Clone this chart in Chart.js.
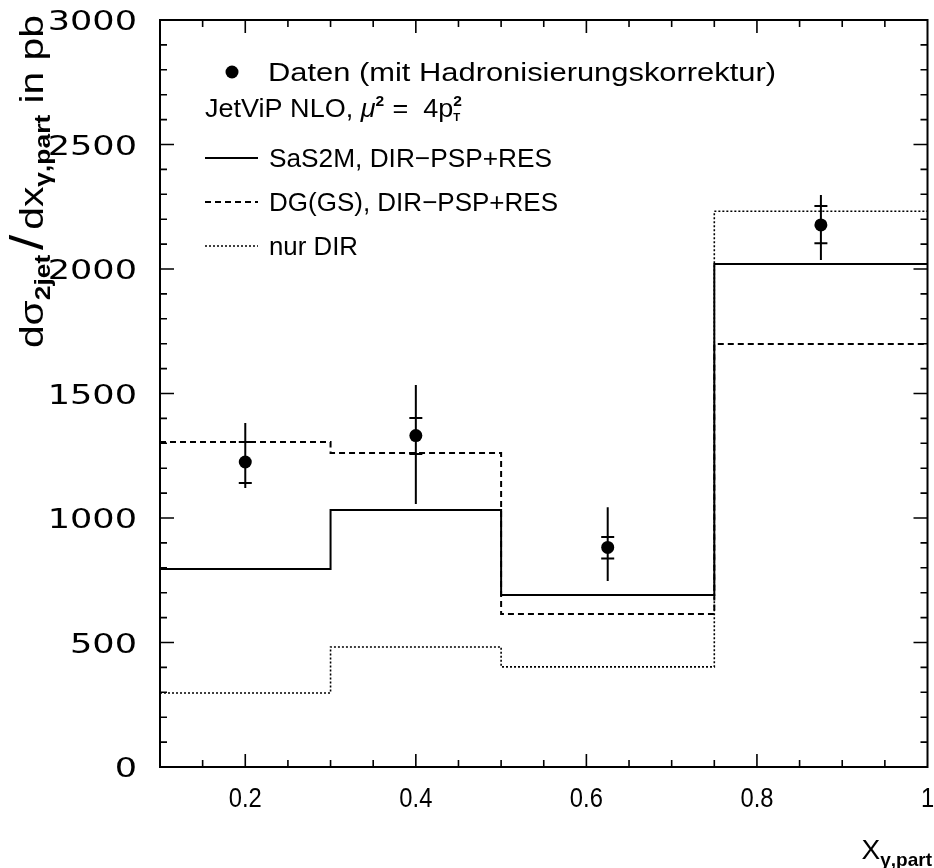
<!DOCTYPE html>
<html>
<head>
<meta charset="utf-8">
<script src="https://cdn.jsdelivr.net/npm/chart.js@4.4.1/dist/chart.umd.min.js"></script>
<style>
  html, body { margin: 0; padding: 0; background: #fff; }
  canvas { display: block; }
</style>
</head>
<body>
<canvas id="c" width="934" height="868"></canvas>
<script>
// Bin edges in x_gamma,part and the NLO predictions per bin (pb)
const binEdges = [0.1, 0.3, 0.5, 0.75, 1.0];
const sas2m  = [795, 1032, 691, 2020];
const dgGs   = [1305, 1261, 614, 1699];
const nurDir = [297, 482, 402, 2232];

// Measured cross section: central value, inner error extent, full error extent
const dataX     = [0.2, 0.4, 0.625, 0.875];
const dataY     = [1225, 1331, 882, 2177];
const innerLow  = [1141, 1257, 837, 2103];
const innerHigh = [1305, 1402, 924, 2253];
const totalLow  = [1120, 1056, 747, 2036];
const totalHigh = [1382, 1534, 1043, 2297];

// Axis tick labels
const xTickValues = [0.2, 0.4, 0.6, 0.8, 1.0];
const xTickLabels = ['0.2', '0.4', '0.6', '0.8', '1'];
const yTickValues = [0, 500, 1000, 1500, 2000, 2500, 3000];
const yTickLabels = ['0', '500', '1000', '1500', '2000', '2500', '3000'];

const FONT = '"Liberation Sans", Arial, sans-serif';

// histogram outline: each bin value starts at its left edge, last value carried to the end
function histPoints(values) {
  const pts = values.map((v, i) => ({ x: binEdges[i], y: v }));
  pts.push({ x: binEdges[binEdges.length - 1], y: values[values.length - 1] });
  return pts;
}

// draw a run of text pieces (size, style, vertical offset) with a horizontal stretch factor
function drawRich(ctx, segs, x, y, sx, measureOnly) {
  ctx.save();
  ctx.translate(x, y);
  ctx.scale(sx, 1);
  let cx = 0;
  for (const s of segs) {
    const fam = s.family || FONT;
    ctx.font = `${s.style || 'normal'} ${s.weight || 'normal'} ${s.size}px ${fam}`;
    const w = ctx.measureText(s.t).width;
    if (!measureOnly) {
      ctx.fillStyle = '#000';
      ctx.textAlign = 'left';
      ctx.textBaseline = 'alphabetic';
      ctx.fillText(s.t, cx + (s.dx || 0), s.dy || 0);
    }
    if (!s.noAdvance) cx += w + (s.gap || 0);
  }
  ctx.restore();
  return cx * sx;
}

// draw a run of text so that it spans a given width
function drawFit(ctx, segs, x, y, width) {
  const natural = drawRich(ctx, segs, 0, 0, 1, true);
  drawRich(ctx, segs, x, y, width / natural);
}

const frameAndTicks = {
  id: 'frameAndTicks',
  afterDraw(chart) {
    const ctx = chart.ctx;
    const { left, right, top, bottom } = chart.chartArea;
    const xs = chart.scales.x, ys = chart.scales.y;

    ctx.save();
    ctx.strokeStyle = '#000';
    ctx.lineWidth = 2;
    ctx.setLineDash([]);
    ctx.strokeRect(left, top, right - left, bottom - top);

    // inward ticks on all four sides
    ctx.lineWidth = 1.6;
    ctx.beginPath();
    for (let i = 1; i < 18; i++) {
      const v = 0.1 + i * 0.05;
      const major = i % 4 === 2;
      const len = major ? 13 : 7;
      const px = xs.getPixelForValue(v);
      ctx.moveTo(px, bottom); ctx.lineTo(px, bottom - len);
      ctx.moveTo(px, top); ctx.lineTo(px, top + len);
    }
    for (let v = 100; v < 3000; v += 100) {
      const len = v % 500 === 0 ? 14 : 7;
      const py = ys.getPixelForValue(v);
      ctx.moveTo(left, py); ctx.lineTo(left + len, py);
      ctx.moveTo(right, py); ctx.lineTo(right - len, py);
    }
    ctx.stroke();

    // tick labels
    ctx.fillStyle = '#000';
    xs.ticks.forEach((t, i) => {
      const px = xs.getPixelForValue(t.value);
      const segs = [{ t: xTickLabels[i], size: 27 }];
      const w = drawRich(ctx, segs, 0, 0, 0.88, true);
      drawRich(ctx, segs, px - w / 2, 807, 0.88);
    });
    ys.ticks.forEach((t, i) => {
      const py = ys.getPixelForValue(t.value);
      const segs = [{ t: yTickLabels[i], size: 27, family: '"DejaVu Sans", sans-serif' }];
      const w = drawRich(ctx, segs, 0, 0, 1.3, true);
      drawRich(ctx, segs, 137 - w, py + 10, 1.3);
    });

    // x axis title
    const xt = [
      { t: 'X', size: 28 },
      { t: 'γ,part', size: 19, weight: 'bold', dy: 7 }
    ];
    const xw = drawRich(ctx, xt, 0, 0, 1, true);
    drawRich(ctx, xt, 932 - xw, 859, 1);

    // y axis title (rotated, reads bottom to top)
    const yt = [
      { t: 'dσ', size: 34 },
      { t: '2jet', size: 22, weight: 'bold', dy: 7, gap: 2 },
      { t: '/', size: 46, dx: 2, gap: 6 },
      { t: 'dx', size: 34 },
      { t: 'γ,part', size: 22, weight: 'bold', dy: 7 },
      { t: ' in pb', size: 34 }
    ];
    const ysx = 1.2;
    const yw = drawRich(ctx, yt, 0, 0, ysx, true);
    ctx.save();
    ctx.translate(43, 15 + yw);
    ctx.rotate(-Math.PI / 2);
    drawRich(ctx, yt, 0, 0, ysx);
    ctx.restore();

    // legend
    ctx.beginPath();
    ctx.arc(232, 72, 6.5, 0, Math.PI * 2);
    ctx.fill();
    drawFit(ctx, [{ t: 'Daten (mit Hadronisierungskorrektur)', size: 26 }], 268, 81, 508);

    drawFit(ctx, [
      { t: 'JetViP NLO, ', size: 26 },
      { t: 'μ', size: 26, style: 'italic' },
      { t: '2', size: 15, weight: 'bold', dy: -11, gap: 8 },
      { t: '=  4p', size: 26 },
      { t: 'T', size: 11, weight: 'bold', dy: 4, noAdvance: true },
      { t: '2', size: 15, weight: 'bold', dy: -11 }
    ], 205, 117, 257);

    const samples = [
      { y: 158, dash: [], lw: 2, text: 'SaS2M, DIR\u2212PSP+RES', w: 283 },
      { y: 202, dash: [6, 4], lw: 2, text: 'DG(GS), DIR\u2212PSP+RES', w: 289 },
      { y: 246, dash: [2, 2], lw: 1.6, text: 'nur DIR', w: 89 }
    ];
    samples.forEach(s => {
      ctx.save();
      ctx.strokeStyle = '#000';
      ctx.lineWidth = s.lw;
      ctx.setLineDash(s.dash);
      ctx.beginPath();
      ctx.moveTo(205, s.y); ctx.lineTo(258, s.y);
      ctx.stroke();
      ctx.restore();
      drawFit(ctx, [{ t: s.text, size: 26 }], 269, s.y + 9, s.w);
    });
    ctx.restore();
  }
};

const errorBars = {
  id: 'errorBars',
  afterDatasetsDraw(chart) {
    const ctx = chart.ctx;
    const xs = chart.scales.x, ys = chart.scales.y;
    ctx.save();
    ctx.strokeStyle = '#000';
    ctx.lineWidth = 2;
    ctx.setLineDash([]);
    ctx.beginPath();
    dataX.forEach((x, i) => {
      const px = xs.getPixelForValue(x);
      ctx.moveTo(px, ys.getPixelForValue(totalLow[i]));
      ctx.lineTo(px, ys.getPixelForValue(totalHigh[i]));
      [innerLow[i], innerHigh[i]].forEach(v => {
        const py = ys.getPixelForValue(v);
        ctx.moveTo(px - 6.5, py); ctx.lineTo(px + 6.5, py);
      });
    });
    ctx.stroke();
    ctx.restore();
  }
};

const lineStyle = (dash, width) => ({
  type: 'line',
  stepped: 'before',
  borderColor: '#000',
  borderWidth: width,
  borderDash: dash,
  pointRadius: 0,
  fill: false,
  tension: 0
});

new Chart(document.getElementById('c'), {
  type: 'line',
  data: {
    datasets: [
      Object.assign({ label: 'SaS2M, DIR\u2212PSP+RES', data: histPoints(sas2m) }, lineStyle([], 2)),
      Object.assign({ label: 'DG(GS), DIR\u2212PSP+RES', data: histPoints(dgGs) }, lineStyle([6, 4], 2)),
      Object.assign({ label: 'nur DIR', data: histPoints(nurDir) }, lineStyle([2, 2], 1.6)),
      {
        type: 'scatter',
        label: 'Daten (mit Hadronisierungskorrektur)',
        data: dataX.map((x, i) => ({ x, y: dataY[i] })),
        pointRadius: 6.5,
        pointHoverRadius: 6.5,
        pointBackgroundColor: '#000',
        pointBorderWidth: 0,
        showLine: false
      }
    ]
  },
  options: {
    responsive: false,
    animation: false,
    events: [],
    layout: { padding: { top: 20, right: 2, left: 0, bottom: 0 } },
    plugins: { legend: { display: false }, tooltip: { enabled: false } },
    scales: {
      x: {
        type: 'linear',
        min: 0.1,
        max: 1.0,
        grid: { display: false },
        border: { display: false },
        ticks: { display: false },
        afterBuildTicks: s => { s.ticks = xTickValues.map(v => ({ value: v })); },
        afterFit: s => { s.height = 101; }
      },
      y: {
        type: 'linear',
        min: 0,
        max: 3000,
        grid: { display: false },
        border: { display: false },
        ticks: { display: false },
        afterBuildTicks: s => { s.ticks = yTickValues.map(v => ({ value: v })); },
        afterFit: s => { s.width = 160; }
      }
    }
  },
  plugins: [errorBars, frameAndTicks]
});
</script>
</body>
</html>
